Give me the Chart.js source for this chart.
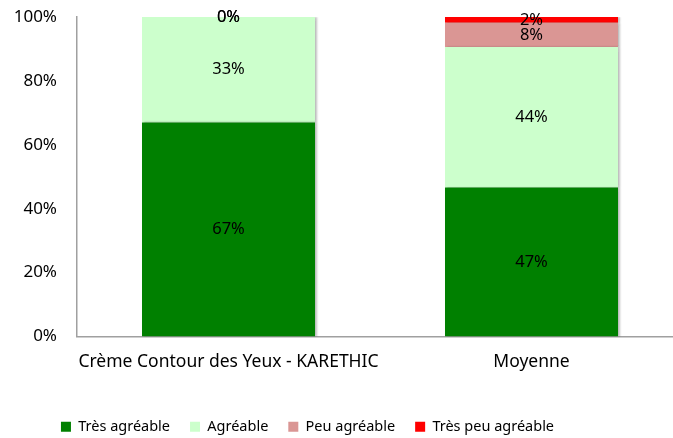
<!DOCTYPE html>
<html>
<head>
  <title>Appréciation</title>
  <script src="https://cdn.jsdelivr.net/npm/chart.js@4.4.0/dist/chart.umd.min.js"></script>
  <style>
    html, body { margin: 0; padding: 0; background: #fff; overflow: hidden; }
    /* le graphique d'origine est rogné à droite */
    .chart-container { position: relative; width: 683px; height: 438px; }
  </style>
</head>
<body>
  <div class="chart-container">
    <canvas id="chart"></canvas>
  </div>
  <script>
    // données
    var categories = ['Crème Contour des Yeux - KARETHIC', 'Moyenne'];
    var tresAgreable = [67, 46.6];
    var agreable = [33, 44.0];
    var peuAgreable = [0, 7.6];
    var tresPeuAgreable = [0, 1.8];
    var yTicks = [0, 20, 40, 60, 80, 100];

    var FONT = "'Noto Sans', sans-serif";

    // ombre légère à droite des barres (style Excel)
    var barShadow = {
      id: 'barShadow',
      beforeDatasetsDraw: function (chart) {
        var ctx = chart.ctx;
        ctx.save();
        ctx.shadowColor = 'rgba(0,0,0,0.25)';
        ctx.shadowBlur = 2;
        ctx.shadowOffsetX = 2;
        ctx.shadowOffsetY = 0;
      },
      afterDatasetsDraw: function (chart) {
        chart.ctx.restore();
      }
    };

    // étiquettes de valeur au centre de chaque segment
    var segmentLabels = {
      id: 'segmentLabels',
      afterDatasetsDraw: function (chart) {
        var ctx = chart.ctx;
        ctx.save();
        ctx.fillStyle = '#000';
        ctx.font = '16.5px ' + FONT;
        ctx.textAlign = 'center';
        ctx.textBaseline = 'middle';
        chart.data.datasets.forEach(function (ds, i) {
          var meta = chart.getDatasetMeta(i);
          meta.data.forEach(function (bar, j) {
            var y = (bar.y + bar.base) / 2;
            ctx.fillText(Math.round(ds.data[j]) + '%', bar.x, y);
          });
        });
        ctx.restore();
      }
    };

    // la légende n'est pas centrée sur le canevas : on la décale à gauche
    var legendShift = {
      id: 'legendShift',
      afterLayout: function (chart) {
        if (chart.legend) {
          chart.legend.left -= 34;
          chart.legend.right -= 34;
        }
      }
    };

    function makeSet(label, data, color) {
      return {
        label: label,
        data: data,
        backgroundColor: color,
        borderWidth: 0,
        categoryPercentage: 1,
        barPercentage: 0.571
      };
    }

    var ctx = document.getElementById('chart').getContext('2d');
    new Chart(ctx, {
      type: 'bar',
      data: {
        labels: categories,
        datasets: [
          makeSet('Très agréable', tresAgreable, '#008000'),
          makeSet('Agréable', agreable, '#ccffcc'),
          makeSet('Peu agréable', peuAgreable, '#da9694'),
          makeSet('Très peu agréable', tresPeuAgreable, '#ff0000')
        ]
      },
      plugins: [barShadow, segmentLabels, legendShift],
      options: {
        responsive: true,
        maintainAspectRatio: false,
        animation: false,
        layout: { padding: { top: 17, right: 0, left: 0, bottom: -6 } },
        plugins: {
          tooltip: { enabled: false },
          legend: {
            position: 'bottom',
            labels: {
              font: { family: FONT, size: 14.5 },
              color: '#000',
              boxWidth: 10,
              boxHeight: 10,
              padding: 20
            }
          }
        },
        scales: {
          x: {
            stacked: true,
            grid: { display: false },
            border: { display: true, color: '#a0a0a0', width: 1.5 },
            ticks: {
              font: { family: FONT, size: 17.5 },
              color: '#000',
              padding: 7,
              minRotation: 0,
              maxRotation: 0,
              autoSkip: false
            },
            afterFit: function (scale) {
              scale.height = 63;
              scale.paddingLeft = 0;
              scale.paddingRight = 0;
            }
          },
          y: {
            stacked: true,
            min: 0,
            max: 100,
            afterBuildTicks: function (scale) {
              scale.ticks = yTicks.map(function (v) { return { value: v }; });
            },
            grid: { display: false },
            border: { display: true, color: '#a0a0a0', width: 1.5 },
            ticks: {
              font: { family: FONT, size: 17 },
              color: '#000',
              padding: 12,
              callback: function (v) { return v + '%'; }
            },
            afterFit: function (scale) {
              scale.width = 77;
              scale.paddingTop = 0;
            }
          }
        }
      }
    });
  </script>
</body>
</html>
